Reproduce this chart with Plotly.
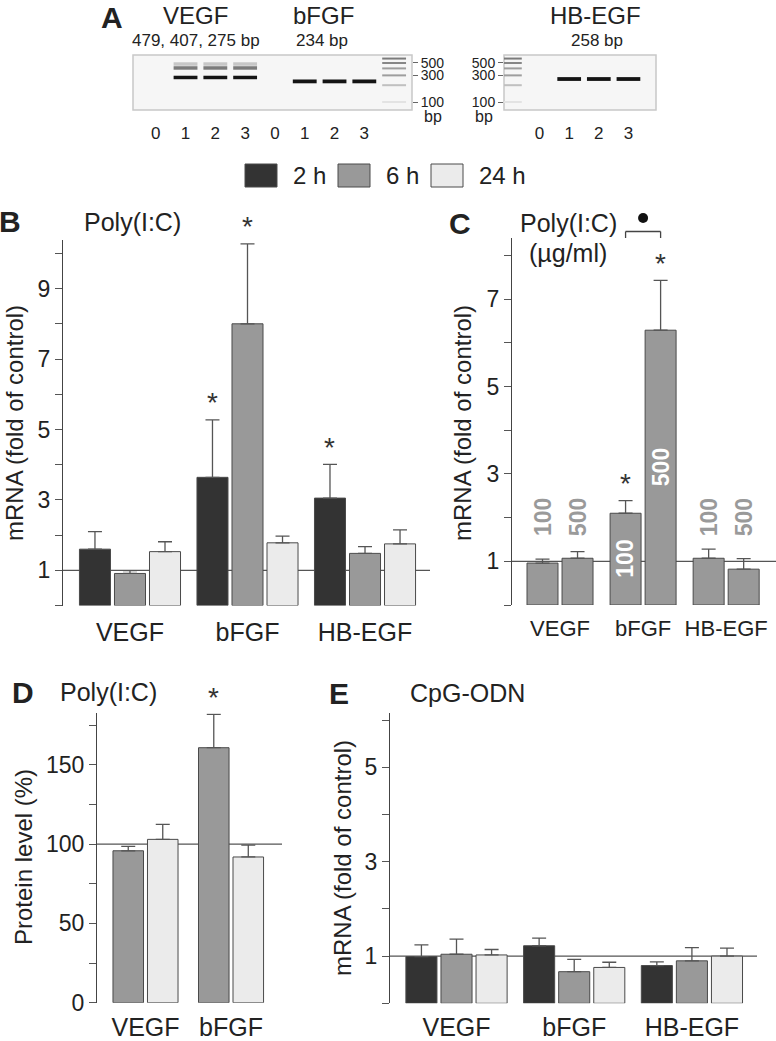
import math
import plotly.graph_objects as go

W, H = 776, 1041
FONT = "Liberation Sans, Arial, Helvetica, sans-serif"
TXT = "#222222"

# ---------------- data ----------------
genes = ["VEGF", "bFGF", "HB-EGF"]
times = ["2 h", "6 h", "24 h"]
time_colors = {"2 h": "#333333", "6 h": "#999999", "24 h": "#ebebeb"}

# Panel B: Poly(I:C), mRNA fold of control
b_vals = {"2 h": [1.60, 3.64, 3.05], "6 h": [0.91, 8.00, 1.48], "24 h": [1.53, 1.78, 1.75]}
b_err = {"2 h": [0.50, 1.63, 0.96], "6 h": [0.08, 2.27, 0.19], "24 h": [0.28, 0.19, 0.40]}
b_sig = [("bFGF", "2 h"), ("bFGF", "6 h"), ("HB-EGF", "2 h")]

# Panel C: Poly(I:C) doses (ug/ml)
doses = ["100", "500"]
c_vals = {"100": [0.96, 2.10, 1.07], "500": [1.07, 6.29, 0.82]}
c_err = {"100": [0.09, 0.29, 0.21], "500": [0.15, 1.14, 0.24]}
c_sig = [("bFGF", "100"), ("bFGF", "500")]
c_inside = ["bFGF"]

# Panel D: protein level (%)
d_genes = ["VEGF", "bFGF"]
d_times = ["6 h", "24 h"]
d_vals = {"6 h": [95.8, 160.8], "24 h": [103.0, 91.9]}
d_err = {"6 h": [2.8, 21.0], "24 h": [9.5, 7.5]}
d_sig = [("bFGF", "6 h")]

# Panel E: CpG-ODN
e_vals = {"2 h": [0.99, 1.22, 0.80], "6 h": [1.04, 0.67, 0.90], "24 h": [1.025, 0.76, 1.00]}
e_err = {"2 h": [0.25, 0.16, 0.08], "6 h": [0.32, 0.26, 0.28], "24 h": [0.115, 0.11, 0.17]}

# Panel A: gels
gel1_lane_labels = ["0", "1", "2", "3", "0", "1", "2", "3"]
gel2_lane_labels = ["0", "1", "2", "3"]
vegf_bands_bp = [479, 407, 275]
vegf_bands_int = [0.22, 0.55, 1.0]
bfgf_bands_bp = [234]
hbegf_bands_bp = [258]
ladder_bp = [600, 500, 400, 300, 200, 100]
ladder_int = [0.55, 0.5, 0.4, 0.4, 0.25, 0.1]
gel_ticks = [500, 300, 100]

# ---------------- helpers ----------------
def px_x(px):
    return px / W

def px_y(py):
    return 1 - py / H

fig = go.Figure()
annotations = []
shapes = []

def txt(text, px, py, size, xanchor="center", yanchor="middle", bold=False, color=TXT, angle=0):
    if bold:
        text = "<b>" + text + "</b>"
    annotations.append(dict(text=text, x=px_x(px), y=px_y(py), xref="paper", yref="paper",
                            xanchor=xanchor, yanchor=yanchor, showarrow=False, textangle=angle,
                            font=dict(size=size, color=color, family=FONT)))

def ax_ids(n):
    return ("x" if n == 1 else f"x{n}"), ("y" if n == 1 else f"y{n}")

def centers(n, step):
    return [(i - (n - 1) / 2) * step for i in range(n)]

def add_bars(n, cats, series, vals, errs, colors, width, step):
    xa, ya = ax_ids(n)
    for c, s in zip(centers(len(series), step), series):
        fig.add_trace(go.Bar(
            x=cats, y=vals[s], width=width, offset=c - width / 2, name=s, showlegend=False,
            marker=dict(color=colors[s], line=dict(color="#4a4a4a", width=1)),
            error_y=dict(type="data", symmetric=False, array=errs[s], arrayminus=[0] * len(cats),
                         color="#555555", thickness=1.3, width=7),
            xaxis=xa, yaxis=ya))

def add_stars(n, cats, series, vals, errs, sig, step):
    xa, ya = ax_ids(n)
    cs = centers(len(series), step)
    for g, s in sig:
        gi, si = cats.index(g), series.index(s)
        annotations.append(dict(text="*", x=gi + cs[si], y=vals[s][gi] + errs[s][gi],
                                xref=xa, yref=ya, showarrow=False, yanchor="middle", yshift=17,
                                font=dict(size=28, color="#333333", family=FONT)))

layout_axes = {}

def bar_axes(n, xd, yd, yr, xr, cats, tickvals, labeled, ref, catsize=25, catpad=4):
    xa, ya = ax_ids(n)
    xk = "xaxis" if n == 1 else f"xaxis{n}"
    yk = "yaxis" if n == 1 else f"yaxis{n}"
    layout_axes[xk] = dict(domain=[px_x(xd[0]), px_x(xd[1])], range=list(xr), type="category",
                           categoryorder="array", categoryarray=cats, anchor=ya,
                           showline=False, showgrid=False, zeroline=False,
                           ticks="outside", ticklen=catpad, tickcolor="rgba(0,0,0,0)",
                           tickfont=dict(size=catsize, color=TXT, family=FONT))
    layout_axes[yk] = dict(domain=[px_y(yd[1]), px_y(yd[0])], range=list(yr), anchor=xa,
                           tickmode="array", tickvals=tickvals,
                           ticktext=[str(v) if v in labeled else "" for v in tickvals],
                           ticks="outside", ticklen=7, tickwidth=1, tickcolor="#555555",
                           showline=True, linecolor="#444444", linewidth=1,
                           showgrid=False, zeroline=False,
                           tickfont=dict(size=23, color=TXT, family=FONT))
    shapes.append(dict(type="line", xref=f"{xa} domain", yref=ya, x0=0, x1=1, y0=ref, y1=ref,
                       line=dict(color="#555555", width=1.2), layer="below"))

# ---------------- Panel B ----------------
B_W, B_S = 0.264, 0.298
bar_axes(1, (63, 430), (240, 605.5), (0, 10.38), (-0.57, 2.553), genes,
         list(range(0, 11)), [1, 3, 5, 7, 9], 1)
add_bars(1, genes, times, b_vals, b_err, time_colors, B_W, B_S)
add_stars(1, genes, times, b_vals, b_err, b_sig, B_S)
txt("B", 10, 222, 30, bold=True)
txt("Poly(I:C)", 82, 222, 25, xanchor="left")
txt("mRNA (fold of control)", 14, 423, 24, angle=-90)

# ---------------- Panel C ----------------
C_W, C_S = 0.373, 0.4217
dose_colors = {"100": "#999999", "500": "#999999"}
bar_axes(2, (512, 776), (238, 605), (0, 8.4), (-0.578, 2.60), genes,
         list(range(0, 9)), [1, 3, 5, 7], 1, catsize=22)
add_bars(2, genes, doses, c_vals, c_err, dose_colors, C_W, C_S)
add_stars(2, genes, doses, c_vals, c_err, c_sig, C_S)
c_cent = centers(2, C_S)
for gi, g in enumerate(genes):
    for di, d in enumerate(doses):
        inside = g in c_inside
        annotations.append(dict(text="<b>" + d + "</b>", x=gi + c_cent[di],
                                y=c_vals[d][gi] / 2 if inside else 2.0,
                                xref="x2", yref="y2", showarrow=False, textangle=-90,
                                font=dict(size=23, color="#ffffff" if inside else "#9a9a9a", family=FONT)))
# bracket between bFGF 100 and 500, with a dot above it
bi = genes.index("bFGF")
bx0, bx1 = bi + c_cent[0], bi + c_cent[1]
ytop, yleg = px_y(231.5), px_y(238)
for (xa0, ya0, xa1, ya1) in [(bx0, yleg, bx0, ytop), (bx0, ytop, bx1, ytop), (bx1, ytop, bx1, yleg)]:
    shapes.append(dict(type="line", xref="x2", yref="paper", x0=xa0, x1=xa1, y0=ya0, y1=ya1,
                       line=dict(color="#444444", width=1.3)))
dot_r = 5 / 83.0
shapes.append(dict(type="circle", xref="x2", yref="paper", x0=bi - dot_r, x1=bi + dot_r,
                   y0=px_y(223), y1=px_y(213), fillcolor="#111111", line=dict(width=0)))
txt("C", 460, 224, 30, bold=True)
txt("Poly(I:C)", 518, 223, 25, xanchor="left")
txt("(µg/ml)", 527, 253, 25, xanchor="left")
txt("mRNA (fold of control)", 462, 423, 24, angle=-90)

# ---------------- Panel D ----------------
D_W, D_S = 0.357, 0.4035
bar_axes(3, (97, 282), (713.3, 1002.7), (0, 182.5), (-0.567, 1.596), d_genes,
         [0, 25, 50, 75, 100, 125, 150, 175], [0, 50, 100, 150], 100, catpad=2)
add_bars(3, d_genes, d_times, d_vals, d_err, time_colors, D_W, D_S)
add_stars(3, d_genes, d_times, d_vals, d_err, d_sig, D_S)
txt("D", 23, 692, 30, bold=True)
txt("Poly(I:C)", 58, 692, 25, xanchor="left")
txt("Protein level (%)", 23, 857, 24, angle=-90)

# ---------------- Panel E ----------------
bar_axes(4, (390, 757), (712.7, 1003.3), (0, 6.16), (-0.565, 2.553), genes,
         list(range(0, 7)), [1, 3, 5], 1, catpad=2)
add_bars(4, genes, times, e_vals, e_err, time_colors, B_W, B_S)
txt("E", 339, 693, 30, bold=True)
txt("CpG-ODN", 408, 693, 25, xanchor="left")
txt("mRNA (fold of control)", 342, 858, 24, angle=-90)

# ---------------- Legend ----------------
for i, s in enumerate(times):
    x0 = 245 + i * 93
    shapes.append(dict(type="rect", xref="paper", yref="paper", x0=px_x(x0), x1=px_x(x0 + 32),
                       y0=px_y(187), y1=px_y(164), fillcolor=time_colors[s],
                       line=dict(color="#4a4a4a", width=1)))
    txt(s, x0 + 46, 176, 24, xanchor="left")

# ---------------- Panel A: gels ----------------
def gray(intensity):
    v = int(round(250 - intensity * 230))
    return f"rgb({v},{v},{v})"

def band_traces(axn, lanes, bps, ints, lw, half=0.4):
    xa, ya = f"x{axn}", f"y{axn}"
    for lane in lanes:
        for bp, it in zip(bps, ints):
            fig.add_trace(go.Scatter(x=[lane - half, lane + half], y=[bp, bp], mode="lines",
                                     line=dict(color=gray(it), width=lw), showlegend=False,
                                     hoverinfo="skip", xaxis=xa, yaxis=ya))

GEL_YR = [math.log10(71.9), math.log10(695)]
gel_y_dom = [px_y(110), px_y(55)]

# gel 1: VEGF lanes 0-3, bFGF lanes 4-7, ladder lane 8
band_traces(5, [1, 2, 3], vegf_bands_bp, vegf_bands_int, 3.5)
band_traces(5, [5, 6, 7], bfgf_bands_bp, [1.0], 3.8)
band_traces(5, [8], ladder_bp, ladder_int, 2)
# gel 2: ladder lane -1, HB-EGF lanes 0-3
band_traces(6, [-1], ladder_bp, ladder_int, 2)
band_traces(6, [1, 2, 3], hbegf_bands_bp, [1.0], 3.8)

layout_axes["xaxis5"] = dict(domain=[px_x(133), px_x(412)], range=[-0.763, 8.6], anchor="y5",
                             tickmode="array", tickvals=list(range(8)), ticktext=gel1_lane_labels,
                             ticks="outside", ticklen=8, tickcolor="rgba(0,0,0,0)",
                             showline=False, showgrid=False, zeroline=False,
                             tickfont=dict(size=17, color=TXT, family=FONT))
layout_axes["yaxis5"] = dict(domain=gel_y_dom, type="log", range=GEL_YR, anchor="x5", side="right",
                             tickmode="array", tickvals=gel_ticks, ticktext=[str(t) for t in gel_ticks],
                             ticks="outside", ticklen=5, tickcolor="#666666",
                             showline=False, showgrid=False, zeroline=False,
                             tickfont=dict(size=14, color=TXT, family=FONT))
layout_axes["xaxis6"] = dict(domain=[px_x(504), px_x(656)], range=[-1.2, 3.93], anchor="y6",
                             tickmode="array", tickvals=list(range(4)), ticktext=gel2_lane_labels,
                             ticks="outside", ticklen=8, tickcolor="rgba(0,0,0,0)",
                             showline=False, showgrid=False, zeroline=False,
                             tickfont=dict(size=17, color=TXT, family=FONT))
layout_axes["yaxis6"] = dict(domain=gel_y_dom, type="log", range=GEL_YR, anchor="x6", side="left",
                             tickmode="array", tickvals=gel_ticks, ticktext=[str(t) for t in gel_ticks],
                             ticks="outside", ticklen=5, tickcolor="#666666",
                             showline=False, showgrid=False, zeroline=False,
                             tickfont=dict(size=14, color=TXT, family=FONT))
for n in (5, 6):
    shapes.append(dict(type="rect", xref=f"x{n} domain", yref=f"y{n} domain", x0=0, x1=1, y0=0, y1=1,
                       fillcolor="#f6f6f6", line=dict(color="#c8c8c8", width=1.5), layer="below"))

txt("A", 112, 17, 30, bold=True)
txt("VEGF", 195, 15, 24)
txt("479, 407, 275 bp", 196, 41, 17)
txt("bFGF", 323, 15, 24)
txt("234 bp", 322, 41, 17)
txt("HB-EGF", 595, 15, 24)
txt("258 bp", 597, 41, 17)
txt("bp", 433, 116, 16)
txt("bp", 484, 116, 16)

fig.update_layout(
    width=W, height=H, margin=dict(l=0, r=0, t=0, b=0),
    paper_bgcolor="white", plot_bgcolor="rgba(0,0,0,0)", template="none",
    barmode="group", showlegend=False, font=dict(family=FONT, color=TXT),
    annotations=annotations, shapes=shapes, **layout_axes)

fig.write_html("out.html", config={"displayModeBar": False},
               post_script="document.body.style.margin='0px';")
